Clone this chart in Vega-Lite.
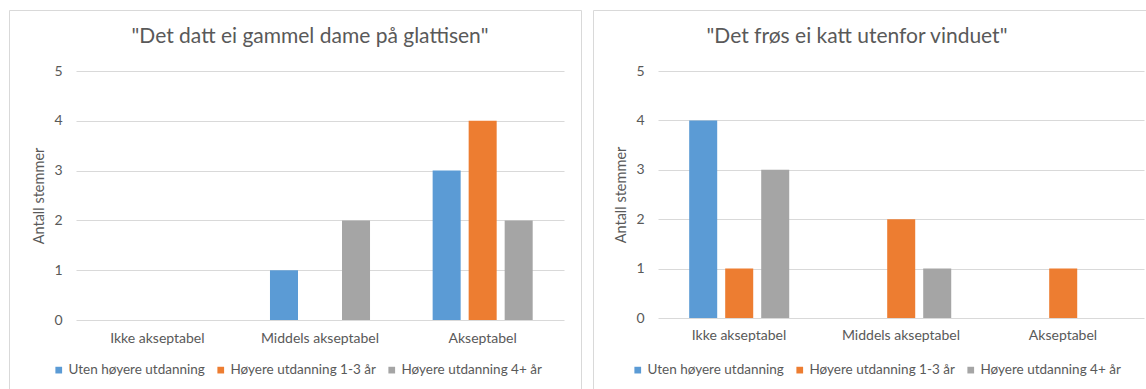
{
  "$schema": "https://vega.github.io/schema/vega-lite/v6.json",
  "background": "white",
  "padding": {"left": 8, "top": 9, "right": 0, "bottom": 0},
  "autosize": {"type": "pad"},
  "datasets": {
    "stemmer": [
      {"utsagn": "datt", "vurdering": "Ikke akseptabel", "gruppe": "Uten høyere utdanning", "antall": 0},
      {"utsagn": "datt", "vurdering": "Ikke akseptabel", "gruppe": "Høyere utdanning 1-3 år", "antall": 0},
      {"utsagn": "datt", "vurdering": "Ikke akseptabel", "gruppe": "Høyere utdanning 4+ år", "antall": 0},
      {"utsagn": "datt", "vurdering": "Middels akseptabel", "gruppe": "Uten høyere utdanning", "antall": 1},
      {"utsagn": "datt", "vurdering": "Middels akseptabel", "gruppe": "Høyere utdanning 1-3 år", "antall": 0},
      {"utsagn": "datt", "vurdering": "Middels akseptabel", "gruppe": "Høyere utdanning 4+ år", "antall": 2},
      {"utsagn": "datt", "vurdering": "Akseptabel", "gruppe": "Uten høyere utdanning", "antall": 3},
      {"utsagn": "datt", "vurdering": "Akseptabel", "gruppe": "Høyere utdanning 1-3 år", "antall": 4},
      {"utsagn": "datt", "vurdering": "Akseptabel", "gruppe": "Høyere utdanning 4+ år", "antall": 2},
      {"utsagn": "frøs", "vurdering": "Ikke akseptabel", "gruppe": "Uten høyere utdanning", "antall": 4},
      {"utsagn": "frøs", "vurdering": "Ikke akseptabel", "gruppe": "Høyere utdanning 1-3 år", "antall": 1},
      {"utsagn": "frøs", "vurdering": "Ikke akseptabel", "gruppe": "Høyere utdanning 4+ år", "antall": 3},
      {"utsagn": "frøs", "vurdering": "Middels akseptabel", "gruppe": "Uten høyere utdanning", "antall": 0},
      {"utsagn": "frøs", "vurdering": "Middels akseptabel", "gruppe": "Høyere utdanning 1-3 år", "antall": 2},
      {"utsagn": "frøs", "vurdering": "Middels akseptabel", "gruppe": "Høyere utdanning 4+ år", "antall": 1},
      {"utsagn": "frøs", "vurdering": "Akseptabel", "gruppe": "Uten høyere utdanning", "antall": 0},
      {"utsagn": "frøs", "vurdering": "Akseptabel", "gruppe": "Høyere utdanning 1-3 år", "antall": 1},
      {"utsagn": "frøs", "vurdering": "Akseptabel", "gruppe": "Høyere utdanning 4+ år", "antall": 0}
    ]
  },
  "spacing": 10,
  "resolve": {"legend": {"color": "independent"}, "scale": {"x": "independent", "y": "independent"}},
  "hconcat": [
    {
      "title": {"text": "\"Det datt ei gammel dame på glattisen\"", "dx": 15},
      "width": 572,
      "height": 379,
      "data": {"name": "stemmer"},
      "transform": [{"filter": "datum.utsagn === 'datt'"}],
      "mark": {"type": "bar"},
      "encoding": {
        "x": {
          "field": "vurdering", "type": "nominal",
          "sort": ["Ikke akseptabel", "Middels akseptabel", "Akseptabel"],
          "scale": {"range": [67, 555], "paddingInner": 0.385, "paddingOuter": 0.1925},
          "axis": {"title": null, "offset": -69, "labelPadding": 11}
        },
        "xOffset": {
          "field": "gruppe", "type": "nominal",
          "sort": ["Uten høyere utdanning", "Høyere utdanning 1-3 år", "Høyere utdanning 4+ år"],
          "scale": {"paddingInner": 0.222, "paddingOuter": 0}
        },
        "y": {
          "field": "antall", "type": "quantitative",
          "scale": {"domain": [0, 5], "range": [310, 61], "nice": false},
          "axis": {"title": "Antall stemmer", "offset": -67, "values": [0, 1, 2, 3, 4, 5], "labelPadding": 14, "titlePadding": 7}
        },
        "color": {
          "field": "gruppe", "type": "nominal",
          "sort": ["Uten høyere utdanning", "Høyere utdanning 1-3 år", "Høyere utdanning 4+ år"],
          "scale": {"domain": ["Uten høyere utdanning", "Høyere utdanning 1-3 år", "Høyere utdanning 4+ år"], "range": ["#5b9bd5", "#ed7d31", "#a5a5a5"]},
          "legend": {"title": null, "orient": "none", "legendX": 43, "legendY": 353, "direction": "horizontal"}
        }
      }
    },
    {
      "title": {"text": "\"Det frøs ei katt utenfor vinduet\"", "dx": -14},
      "width": 556,
      "height": 379,
      "data": {"name": "stemmer"},
      "transform": [{"filter": "datum.utsagn === 'frøs'"}],
      "mark": {"type": "bar"},
      "encoding": {
        "x": {
          "field": "vurdering", "type": "nominal",
          "sort": ["Ikke akseptabel", "Middels akseptabel", "Akseptabel"],
          "scale": {"range": [65, 551], "paddingInner": 0.385, "paddingOuter": 0.1925},
          "axis": {"title": null, "offset": -71, "labelPadding": 10}
        },
        "xOffset": {
          "field": "gruppe", "type": "nominal",
          "sort": ["Uten høyere utdanning", "Høyere utdanning 1-3 år", "Høyere utdanning 4+ år"],
          "scale": {"paddingInner": 0.222, "paddingOuter": 0}
        },
        "y": {
          "field": "antall", "type": "quantitative",
          "scale": {"domain": [0, 5], "range": [308, 61], "nice": false},
          "axis": {"title": "Antall stemmer", "offset": -65, "values": [0, 1, 2, 3, 4, 5], "labelPadding": 14, "titlePadding": 7}
        },
        "color": {
          "field": "gruppe", "type": "nominal",
          "sort": ["Uten høyere utdanning", "Høyere utdanning 1-3 år", "Høyere utdanning 4+ år"],
          "scale": {"domain": ["Uten høyere utdanning", "Høyere utdanning 1-3 år", "Høyere utdanning 4+ år"], "range": ["#5b9bd5", "#ed7d31", "#a5a5a5"]},
          "legend": {"title": null, "orient": "none", "legendX": 38, "legendY": 353, "direction": "horizontal"}
        }
      }
    }
  ],
  "config": {
    "font": "Lato",
    "view": {"stroke": "#d9d9d9", "strokeWidth": 1, "fill": "white"},
    "title": {"fontSize": 21, "fontWeight": "normal", "color": "#595959", "anchor": "middle", "frame": "group", "baseline": "alphabetic", "offset": -37},
    "axis": {
      "labelFont": "Lato", "labelFontSize": 14, "labelColor": "#595959",
      "titleFont": "Lato", "titleFontSize": 14.5, "titleFontWeight": "normal", "titleColor": "#595959",
      "domain": false, "ticks": false, "tickSize": 0,
      "gridColor": "#d9d9d9", "gridWidth": 1, "gridOpacity": 1
    },
    "axisX": {"grid": false, "labelAngle": 0},
    "axisY": {"grid": true},
    "legend": {
      "labelFont": "Lato", "labelFontSize": 13.5, "labelColor": "#595959",
      "symbolType": "square", "symbolSize": 45, "symbolStrokeWidth": 0, "symbolOpacity": 1,
      "labelOffset": 3, "columnPadding": 9, "padding": 0
    }
  }
}
